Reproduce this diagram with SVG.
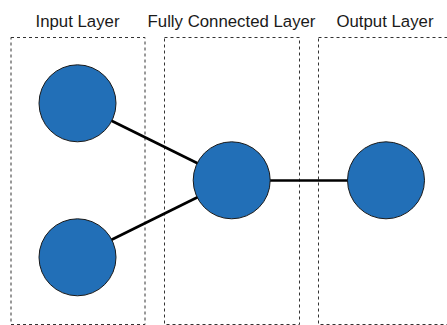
<svg xmlns="http://www.w3.org/2000/svg" width="447" height="325" viewBox="0 0 447 325">
  <style>
    .layer { fill: none; stroke: #333; stroke-width: 1; stroke-dasharray: 3 3; }
    .title { font-family: "Liberation Sans", Arial, sans-serif; font-size: 16.8px; fill: #1a1a1a; text-anchor: middle; }
    .neuron { fill: #226FB7; stroke: #1a1a1a; stroke-width: 1; }
    .edge { stroke: #000; stroke-width: 2.6; fill: none; }
  </style>
  <rect width="447" height="325" fill="#fff"/>

  <!-- layer frames -->
  <g id="layer-input">
    <rect class="layer" x="11" y="37.5" width="134" height="287"/>
    <text class="title" x="77.5" y="27">Input Layer</text>
  </g>
  <g id="layer-hidden">
    <rect class="layer" x="164.5" y="37.5" width="135" height="287"/>
    <text class="title" x="231.5" y="27">Fully Connected Layer</text>
  </g>
  <g id="layer-output">
    <rect class="layer" x="318.5" y="37.5" width="135" height="287"/>
    <text class="title" x="385" y="27">Output Layer</text>
  </g>

  <!-- connections -->
  <g id="connectors">
    <line class="edge" x1="111" y1="120.5" x2="198" y2="163.5"/>
    <line class="edge" x1="111" y1="240" x2="198" y2="197"/>
    <line class="edge" x1="270" y1="180.5" x2="348" y2="180.5"/>
  </g>

  <!-- neurons -->
  <g id="in1"><circle class="neuron" cx="77.5" cy="103.3" r="38.5"/></g>
  <g id="in2"><circle class="neuron" cx="77.5" cy="257.3" r="38.5"/></g>
  <g id="fc1"><circle class="neuron" cx="231.7" cy="180.3" r="38.5"/></g>
  <g id="out1"><circle class="neuron" cx="386" cy="180.3" r="38.5"/></g>
</svg>
